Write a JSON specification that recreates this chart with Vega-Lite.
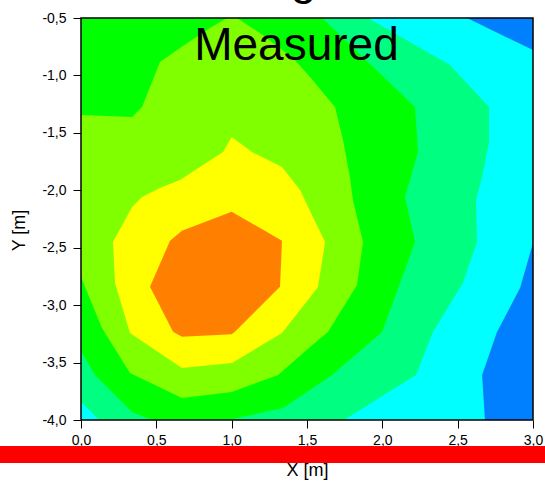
{
  "$schema": "https://vega.github.io/schema/vega-lite/v6.json",
  "width": 452,
  "height": 402,
  "autosize": {"type": "none"},
  "padding": {"left": 81, "top": 18, "right": 12, "bottom": 63},
  "background": "#ffffff",
  "view": {"fill": "#0080FF", "stroke": null},
  "config": {
    "font": "Liberation Sans",
    "axis": {
      "labelOverlap": false,
      "labelFlush": false,
      "domain": false,
      "grid": false,
      "tickColor": "#000000",
      "tickWidth": 1,
      "labelFont": "Liberation Sans",
      "labelFontSize": 14,
      "labelColor": "#000000",
      "titleFont": "Liberation Sans",
      "titleFontSize": 18,
      "titleFontWeight": "normal",
      "titleColor": "#000000"
    },
    "axisX": {"labelPadding": 5, "titleBaseline": "alphabetic", "titleY": 55},
    "axisY": {"labelPadding": 7, "titleAngle": 270, "titleBaseline": "alphabetic", "titleAlign": "center", "titleX": -57, "titleY": 212}
  },
  "datasets": {
    "regions": [
      {"level": "cyan", "x": 0, "y": -0.5},
      {"level": "cyan", "x": 2.562, "y": -0.5},
      {"level": "cyan", "x": 3, "y": -0.779},
      {"level": "cyan", "x": 3, "y": -2.459},
      {"level": "cyan", "x": 2.914, "y": -2.851},
      {"level": "cyan", "x": 2.761, "y": -3.234},
      {"level": "cyan", "x": 2.662, "y": -3.608},
      {"level": "cyan", "x": 2.681, "y": -4},
      {"level": "cyan", "x": 0, "y": -4},

      {"level": "spring", "x": 0, "y": -0.5},
      {"level": "spring", "x": 1.905, "y": -0.5},
      {"level": "spring", "x": 2.449, "y": -0.909},
      {"level": "spring", "x": 2.708, "y": -1.275},
      {"level": "spring", "x": 2.708, "y": -1.588},
      {"level": "spring", "x": 2.662, "y": -1.884},
      {"level": "spring", "x": 2.622, "y": -2.085},
      {"level": "spring", "x": 2.628, "y": -2.45},
      {"level": "spring", "x": 2.535, "y": -2.807},
      {"level": "spring", "x": 2.336, "y": -3.234},
      {"level": "spring", "x": 2.224, "y": -3.608},
      {"level": "spring", "x": 2.17, "y": -3.652},
      {"level": "spring", "x": 1.746, "y": -4},
      {"level": "spring", "x": 0.12, "y": -4},
      {"level": "spring", "x": 0, "y": -3.843},

      {"level": "green", "x": 0, "y": -0.5},
      {"level": "green", "x": 1.6, "y": -0.5},
      {"level": "green", "x": 2.217, "y": -1.275},
      {"level": "green", "x": 2.237, "y": -1.667},
      {"level": "green", "x": 2.15, "y": -2.059},
      {"level": "green", "x": 2.217, "y": -2.45},
      {"level": "green", "x": 1.998, "y": -3.234},
      {"level": "green", "x": 1.666, "y": -3.608},
      {"level": "green", "x": 1.341, "y": -3.896},
      {"level": "green", "x": 0.976, "y": -4},
      {"level": "green", "x": 0.471, "y": -4},
      {"level": "green", "x": 0.339, "y": -3.93},
      {"level": "green", "x": 0.093, "y": -3.608},
      {"level": "green", "x": 0, "y": -3.399},

      {"level": "chartreuse", "x": 0.969, "y": -0.5},
      {"level": "chartreuse", "x": 1.035, "y": -0.5},
      {"level": "chartreuse", "x": 1.188, "y": -0.631},
      {"level": "chartreuse", "x": 1.407, "y": -0.848},
      {"level": "chartreuse", "x": 1.52, "y": -1.014},
      {"level": "chartreuse", "x": 1.686, "y": -1.275},
      {"level": "chartreuse", "x": 1.739, "y": -1.562},
      {"level": "chartreuse", "x": 1.785, "y": -1.884},
      {"level": "chartreuse", "x": 1.805, "y": -2.085},
      {"level": "chartreuse", "x": 1.872, "y": -2.45},
      {"level": "chartreuse", "x": 1.832, "y": -2.825},
      {"level": "chartreuse", "x": 1.639, "y": -3.234},
      {"level": "chartreuse", "x": 1.52, "y": -3.364},
      {"level": "chartreuse", "x": 1.308, "y": -3.608},
      {"level": "chartreuse", "x": 1.002, "y": -3.756},
      {"level": "chartreuse", "x": 0.67, "y": -3.809},
      {"level": "chartreuse", "x": 0.325, "y": -3.591},
      {"level": "chartreuse", "x": 0.139, "y": -3.199},
      {"level": "chartreuse", "x": 0, "y": -2.755},
      {"level": "chartreuse", "x": 0, "y": -1.345},
      {"level": "chartreuse", "x": 0.339, "y": -1.362},
      {"level": "chartreuse", "x": 0.405, "y": -1.275},
      {"level": "chartreuse", "x": 0.524, "y": -0.883},
      {"level": "chartreuse", "x": 0.657, "y": -0.761},
      {"level": "chartreuse", "x": 0.856, "y": -0.587},

      {"level": "yellow", "x": 1.0, "y": -1.536},
      {"level": "yellow", "x": 1.135, "y": -1.667},
      {"level": "yellow", "x": 1.334, "y": -1.797},
      {"level": "yellow", "x": 1.454, "y": -1.998},
      {"level": "yellow", "x": 1.533, "y": -2.215},
      {"level": "yellow", "x": 1.62, "y": -2.45},
      {"level": "yellow", "x": 1.573, "y": -2.842},
      {"level": "yellow", "x": 1.454, "y": -3.042},
      {"level": "yellow", "x": 1.334, "y": -3.243},
      {"level": "yellow", "x": 1.002, "y": -3.504},
      {"level": "yellow", "x": 0.67, "y": -3.547},
      {"level": "yellow", "x": 0.325, "y": -3.243},
      {"level": "yellow", "x": 0.226, "y": -2.807},
      {"level": "yellow", "x": 0.212, "y": -2.45},
      {"level": "yellow", "x": 0.339, "y": -2.146},
      {"level": "yellow", "x": 0.405, "y": -2.059},
      {"level": "yellow", "x": 0.524, "y": -1.98},
      {"level": "yellow", "x": 0.657, "y": -1.91},
      {"level": "yellow", "x": 0.81, "y": -1.78},
      {"level": "yellow", "x": 0.943, "y": -1.667},

      {"level": "orange", "x": 1.0, "y": -2.187},
      {"level": "orange", "x": 1.334, "y": -2.439},
      {"level": "orange", "x": 1.321, "y": -2.839},
      {"level": "orange", "x": 1.022, "y": -3.231},
      {"level": "orange", "x": 1.0, "y": -3.254},
      {"level": "orange", "x": 0.67, "y": -3.275},
      {"level": "orange", "x": 0.611, "y": -3.231},
      {"level": "orange", "x": 0.458, "y": -2.839},
      {"level": "orange", "x": 0.591, "y": -2.439},
      {"level": "orange", "x": 0.67, "y": -2.352}
    ]
  },
  "layer": [
    {
      "data": {"name": "regions"},
      "transform": [{"filter": "datum.level == 'cyan'"}],
      "mark": {"type": "line", "interpolate": "linear-closed", "fill": "#00FFFF", "stroke": "#00FFFF", "strokeWidth": 0},
      "encoding": {
        "x": {
          "field": "x",
          "type": "quantitative",
          "title": "X [m]",
          "scale": {"domain": [0, 3], "nice": false, "zero": false},
          "axis": {
            "values": [0, 0.25, 0.5, 0.75, 1, 1.25, 1.5, 1.75, 2, 2.25, 2.5, 2.75, 3],
            "labelExpr": "abs(datum.value*2-round(datum.value*2))>0.01 ? '' : replace(replace(format(datum.value,'.1f'),'.',','),'\u2212','-')",
            "tickSize": {"condition": {"test": "abs(datum.value*2-round(datum.value*2))>0.01", "value": 4}, "value": 8}
          }
        },
        "y": {
          "field": "y",
          "type": "quantitative",
          "title": "Y [m]",
          "scale": {"domain": [-4, -0.5], "nice": false, "zero": false},
          "axis": {
            "values": [-4, -3.75, -3.5, -3.25, -3, -2.75, -2.5, -2.25, -2, -1.75, -1.5, -1.25, -1, -0.75, -0.5],
            "labelExpr": "abs(datum.value*2-round(datum.value*2))>0.01 ? '' : replace(replace(format(datum.value,'.1f'),'.',','),'\u2212','-')",
            "tickSize": {"condition": {"test": "abs(datum.value*2-round(datum.value*2))>0.01", "value": 4}, "value": 8}
          }
        },
        "order": {"value": null}
      }
    },
    {
      "data": {"name": "regions"},
      "transform": [{"filter": "datum.level == 'spring'"}],
      "mark": {"type": "line", "interpolate": "linear-closed", "fill": "#00FF80", "stroke": "#00FF80", "strokeWidth": 0},
      "encoding": {"x": {"field": "x", "type": "quantitative", "title": "X [m]"}, "y": {"field": "y", "type": "quantitative", "title": "Y [m]"}, "order": {"value": null}}
    },
    {
      "data": {"name": "regions"},
      "transform": [{"filter": "datum.level == 'green'"}],
      "mark": {"type": "line", "interpolate": "linear-closed", "fill": "#00FF00", "stroke": "#00FF00", "strokeWidth": 0},
      "encoding": {"x": {"field": "x", "type": "quantitative", "title": "X [m]"}, "y": {"field": "y", "type": "quantitative", "title": "Y [m]"}, "order": {"value": null}}
    },
    {
      "data": {"name": "regions"},
      "transform": [{"filter": "datum.level == 'chartreuse'"}],
      "mark": {"type": "line", "interpolate": "linear-closed", "fill": "#80FF00", "stroke": "#80FF00", "strokeWidth": 0},
      "encoding": {"x": {"field": "x", "type": "quantitative", "title": "X [m]"}, "y": {"field": "y", "type": "quantitative", "title": "Y [m]"}, "order": {"value": null}}
    },
    {
      "data": {"name": "regions"},
      "transform": [{"filter": "datum.level == 'yellow'"}],
      "mark": {"type": "line", "interpolate": "linear-closed", "fill": "#FFFF00", "stroke": "#FFFF00", "strokeWidth": 0},
      "encoding": {"x": {"field": "x", "type": "quantitative", "title": "X [m]"}, "y": {"field": "y", "type": "quantitative", "title": "Y [m]"}, "order": {"value": null}}
    },
    {
      "data": {"name": "regions"},
      "transform": [{"filter": "datum.level == 'orange'"}],
      "mark": {"type": "line", "interpolate": "linear-closed", "fill": "#FF8000", "stroke": "#FF8000", "strokeWidth": 0},
      "encoding": {"x": {"field": "x", "type": "quantitative", "title": "X [m]"}, "y": {"field": "y", "type": "quantitative", "title": "Y [m]"}, "order": {"value": null}}
    },
    {
      "data": {"values": [{"label": "Measured"}]},
      "mark": {"type": "text", "font": "Liberation Sans", "fontSize": 46, "align": "center", "baseline": "alphabetic", "color": "#000000"},
      "encoding": {"x": {"datum": 1.43}, "y": {"datum": -0.87}, "text": {"field": "label"}}
    },
    {
      "data": {"values": [{"label": "frame"}]},
      "mark": {"type": "rect", "fill": "transparent", "stroke": "#000000", "strokeWidth": 1.5},
      "encoding": {"x": {"datum": 0}, "x2": {"datum": 3}, "y": {"datum": -0.5}, "y2": {"datum": -4}}
    },
    {
      "data": {"values": [{"label": "bar"}]},
      "mark": {"type": "rect", "fill": "#FF0000", "stroke": null},
      "encoding": {"x": {"datum": -0.6}, "x2": {"datum": 3.2}, "y": {"datum": -4.2264}, "y2": {"datum": -4.3744}}
    },
    {
      "data": {"values": [{"label": "g"}]},
      "mark": {"type": "text", "font": "Liberation Sans", "fontSize": 46, "align": "center", "baseline": "alphabetic", "color": "#000000"},
      "encoding": {"x": {"datum": 1.477}, "y": {"datum": -0.29}, "text": {"field": "label"}}
    }
  ]
}
